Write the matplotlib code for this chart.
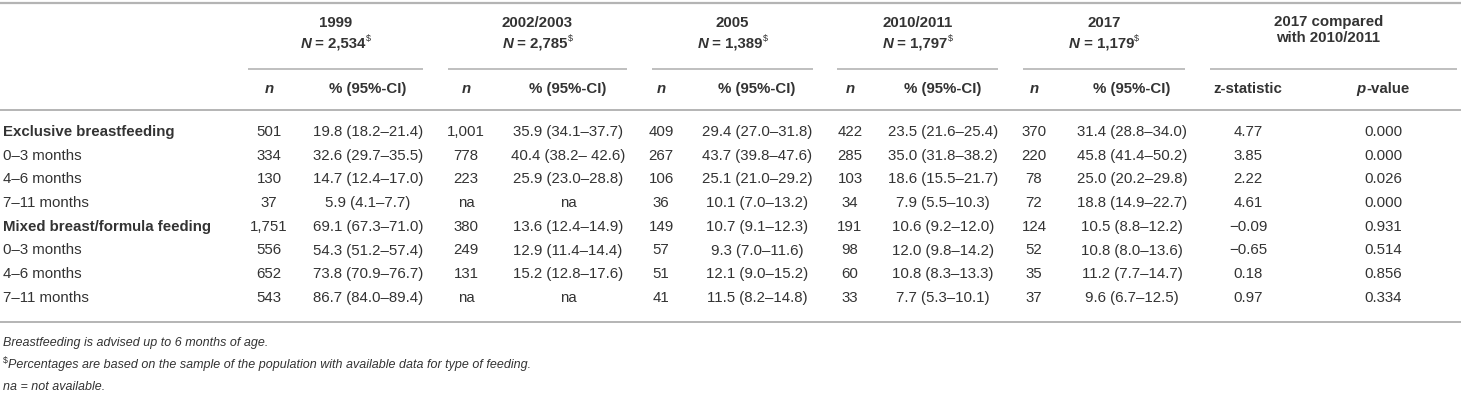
import matplotlib
matplotlib.use("Agg")
import matplotlib.pyplot as plt

plt.rcParams['font.family'] = ['Liberation Sans', 'DejaVu Sans']

W, H = 1461, 405
TXT = '#333333'
LINE = '#b4b4b4'
FS = 10.8
FS_NOTE = 9.0

# table content
row_labels = ["Exclusive breastfeeding", "0–3 months", "4–6 months", "7–11 months",
              "Mixed breast/formula feeding", "0–3 months", "4–6 months", "7–11 months"]
row_bold = [True, False, False, False, True, False, False, False]

years = ["1999", "2002/2003", "2005", "2010/2011", "2017"]
N_totals = ["2,534", "2,785", "1,389", "1,797", "1,179"]

n_1999 = ["501", "334", "130", "37", "1,751", "556", "652", "543"]
pct_1999 = ["19.8 (18.2–21.4)", "32.6 (29.7–35.5)", "14.7 (12.4–17.0)", "5.9 (4.1–7.7)",
            "69.1 (67.3–71.0)", "54.3 (51.2–57.4)", "73.8 (70.9–76.7)", "86.7 (84.0–89.4)"]
n_2002 = ["1,001", "778", "223", "na", "380", "249", "131", "na"]
pct_2002 = ["35.9 (34.1–37.7)", "40.4 (38.2– 42.6)", "25.9 (23.0–28.8)", "na",
            "13.6 (12.4–14.9)", "12.9 (11.4–14.4)", "15.2 (12.8–17.6)", "na"]
n_2005 = ["409", "267", "106", "36", "149", "57", "51", "41"]
pct_2005 = ["29.4 (27.0–31.8)", "43.7 (39.8–47.6)", "25.1 (21.0–29.2)", "10.1 (7.0–13.2)",
            "10.7 (9.1–12.3)", "9.3 (7.0–11.6)", "12.1 (9.0–15.2)", "11.5 (8.2–14.8)"]
n_2010 = ["422", "285", "103", "34", "191", "98", "60", "33"]
pct_2010 = ["23.5 (21.6–25.4)", "35.0 (31.8–38.2)", "18.6 (15.5–21.7)", "7.9 (5.5–10.3)",
            "10.6 (9.2–12.0)", "12.0 (9.8–14.2)", "10.8 (8.3–13.3)", "7.7 (5.3–10.1)"]
n_2017 = ["370", "220", "78", "72", "124", "52", "35", "37"]
pct_2017 = ["31.4 (28.8–34.0)", "45.8 (41.4–50.2)", "25.0 (20.2–29.8)", "18.8 (14.9–22.7)",
            "10.5 (8.8–12.2)", "10.8 (8.0–13.6)", "11.2 (7.7–14.7)", "9.6 (6.7–12.5)"]
z_stat = ["4.77", "3.85", "2.22", "4.61", "−0.09", "−0.65", "0.18", "0.97"]
p_val = ["0.000", "0.000", "0.026", "0.000", "0.931", "0.514", "0.856", "0.334"]

n_cols = [n_1999, n_2002, n_2005, n_2010, n_2017]
pct_cols = [pct_1999, pct_2002, pct_2005, pct_2010, pct_2017]

# layout in pixels
group_span = [(248, 423), (448, 627), (652, 813), (837, 998), (1023, 1185)]
n_x = [269, 466, 661, 850, 1034]
pct_x = [368, 568, 757, 943, 1132]
cmp_span = (1210, 1457)
z_x, p_x = 1248, 1383
label_x = 3
y_top, y_h1, y_h2, y_ul, y_sub, y_line2 = 3, 23, 44, 69, 89, 110
y_row0, dy = 132, 23.7
y_bottom = 322
y_notes = [343, 365, 387]

fig = plt.figure(figsize=(W / 100, H / 100), dpi=100)
ax = fig.add_axes([0, 0, 1, 1])
ax.set_xlim(0, W)
ax.set_ylim(H, 0)
ax.axis('off')
fig.canvas.draw()
renderer = fig.canvas.get_renderer()


def width_of(s, **kw):
    t = ax.text(0, 0, s, **kw)
    w = t.get_window_extent(renderer).width
    t.remove()
    return w


def runs(x, y, parts, ha='center'):
    # parts: list of (text, kwargs, dy)
    ws = [width_of(s, **kw) for s, kw, _ in parts]
    total = sum(ws)
    if ha == 'center':
        x0 = x - total / 2
    else:
        x0 = x
    for (s, kw, off), w in zip(parts, ws):
        ax.text(x0, y + off, s, ha='left', va='center', color=TXT, **kw)
        x0 += w


def hline(x0, x1, y, lw):
    ax.plot([x0, x1], [y, y], color=LINE, lw=lw, solid_capstyle='butt')


hline(0, W, y_top, 1.6)
hline(0, W, y_line2, 1.4)
hline(0, W, y_bottom, 1.4)

bold = dict(fontsize=FS, fontweight='bold')
bold_it = dict(fontsize=FS, fontweight='bold', fontstyle='italic')
sup = dict(fontsize=FS * 0.6)

for i, yr in enumerate(years):
    x0, x1 = group_span[i]
    xc = (x0 + x1) / 2
    ax.text(xc, y_h1, yr, ha='center', va='center', color=TXT, **bold)
    runs(xc, y_h2, [("N", bold_it, 0), (" = " + N_totals[i], bold, 0), ("$", sup, -5)])
    hline(x0, x1, y_ul, 1.2)
    ax.text(n_x[i], y_sub, "n", ha='center', va='center', color=TXT, **bold_it)
    ax.text(pct_x[i], y_sub, "% (95%-CI)", ha='center', va='center', color=TXT, **bold)

xc = sum(cmp_span) / 2 - 5
ax.text(xc, 30, "2017 compared\nwith 2010/2011", ha='center', va='center',
        color=TXT, linespacing=1.25, **bold)
hline(cmp_span[0], cmp_span[1], y_ul, 1.2)
ax.text(z_x, y_sub, "z-statistic", ha='center', va='center', color=TXT, **bold)
runs(p_x, y_sub, [("p", bold_it, 0), ("-value", bold, 0)])

for r, lab in enumerate(row_labels):
    y = y_row0 + r * dy
    ax.text(label_x, y, lab, ha='left', va='center', color=TXT, fontsize=FS,
            fontweight='bold' if row_bold[r] else 'normal')
    for i in range(len(years)):
        ax.text(n_x[i], y, n_cols[i][r], ha='center', va='center', color=TXT, fontsize=FS)
        ax.text(pct_x[i], y, pct_cols[i][r], ha='center', va='center', color=TXT, fontsize=FS)
    ax.text(z_x, y, z_stat[r], ha='center', va='center', color=TXT, fontsize=FS)
    ax.text(p_x, y, p_val[r], ha='center', va='center', color=TXT, fontsize=FS)

note_it = dict(fontsize=FS_NOTE, fontstyle='italic')
ax.text(label_x, y_notes[0], "Breastfeeding is advised up to 6 months of age.", ha='left',
        va='center', color=TXT, **note_it)
runs(label_x, y_notes[1], [("$", dict(fontsize=FS_NOTE * 0.7), -4),
                           ("Percentages are based on the sample of the population with available data for type of feeding.", note_it, 0)],
     ha='left')
ax.text(label_x, y_notes[2], "na = not available.", ha='left', va='center', color=TXT, **note_it)

fig.savefig("out.png", dpi=100)
